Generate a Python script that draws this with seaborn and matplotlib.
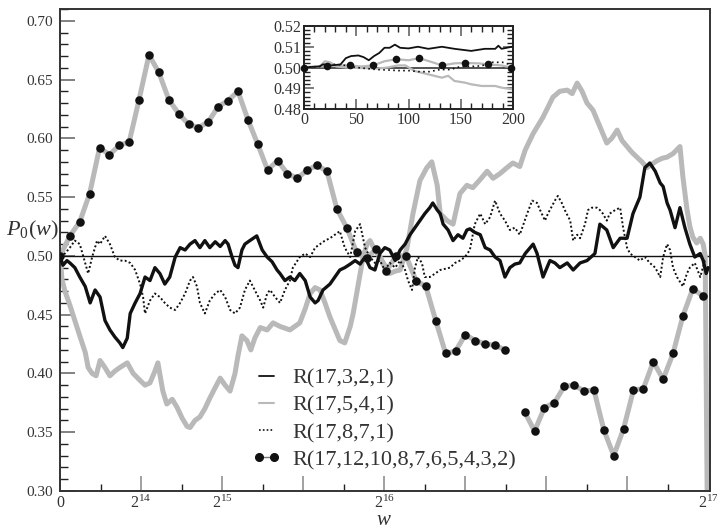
import numpy as np
import pandas as pd
import seaborn as sns
import matplotlib
matplotlib.use("Agg")
import matplotlib.pyplot as plt
from matplotlib.lines import Line2D
from matplotlib.ticker import MultipleLocator, FuncFormatter

# ---------------- data (w in thousands) ----------------
s1_w = [0.0, 0.6, 1.4, 2.0, 3.0, 4.0, 5.1, 6.1, 7.1, 8.1, 9.1, 10.1, 11.1, 12.1, 12.7, 13.6, 14.2, 15.2, 16.2,
        17.2, 18.2, 19.2, 20.2, 21.2, 22.2, 23.3, 24.3, 25.3, 26.3, 27.3, 28.3, 29.3, 30.3, 31.4, 32.4, 33.4,
        34.0, 34.8, 35.4, 36.0, 36.8, 37.4, 38.4, 39.8, 40.9, 41.9, 42.9, 43.9, 44.5, 45.5, 46.5, 47.5, 48.5,
        49.6, 50.6, 51.6, 52.2, 53.2, 54.6, 55.6, 56.6, 57.6, 58.7, 59.7, 60.7, 61.7, 62.7, 63.7, 64.7, 65.7,
        66.7, 67.8, 68.8, 69.8, 70.8, 71.8, 72.8, 73.8, 74.8, 75.4, 76.3, 76.9, 77.5, 78.5, 79.5, 80.5, 81.5,
        82.3, 82.9, 83.9, 85.0, 86.0, 87.0, 88.0, 89.0, 90.0, 91.0, 92.0, 93.0, 94.1, 95.1, 95.7, 96.5, 97.1,
        97.7, 99.1, 100.1, 101.1, 102.6, 103.8, 105.2, 106.6, 108.2, 109.2, 110.6, 111.9, 113.3, 114.7, 115.9,
        117.3, 118.3, 119.3, 120.4, 121.4, 122.0, 122.8, 123.4, 124.4, 125.4, 126.4, 127.4, 128.4, 129.5,
        130.1, 130.7, 131.1]
s1_v = [0.500, 0.492, 0.496, 0.494, 0.490, 0.482, 0.474, 0.460, 0.471, 0.465, 0.445, 0.437, 0.431, 0.426, 0.422,
        0.430, 0.451, 0.460, 0.468, 0.482, 0.479, 0.490, 0.485, 0.476, 0.482, 0.499, 0.507, 0.505, 0.510, 0.513,
        0.507, 0.513, 0.507, 0.512, 0.508, 0.513, 0.510, 0.499, 0.492, 0.490, 0.505, 0.510, 0.513, 0.517, 0.505,
        0.499, 0.495, 0.488, 0.485, 0.479, 0.482, 0.479, 0.485, 0.479, 0.465, 0.460, 0.462, 0.471, 0.476, 0.482,
        0.488, 0.490, 0.493, 0.496, 0.493, 0.499, 0.490, 0.488, 0.502, 0.507, 0.505, 0.496, 0.505, 0.510, 0.518,
        0.524, 0.530, 0.536, 0.541, 0.545, 0.539, 0.536, 0.527, 0.522, 0.513, 0.518, 0.515, 0.522, 0.523, 0.520,
        0.518, 0.507, 0.505, 0.499, 0.496, 0.482, 0.490, 0.493, 0.494, 0.502, 0.507, 0.510, 0.502, 0.492, 0.482,
        0.496, 0.494, 0.490, 0.494, 0.488, 0.494, 0.496, 0.502, 0.527, 0.522, 0.507, 0.515, 0.515, 0.536, 0.550,
        0.575, 0.579, 0.572, 0.562, 0.559, 0.545, 0.539, 0.524, 0.541, 0.524, 0.510, 0.499, 0.502, 0.496, 0.485,
        0.490]

s2_w = [0.0, 0.4, 1.0, 2.0, 3.0, 4.0, 5.1, 5.7, 6.5, 7.3, 8.1, 9.1, 10.1, 11.1, 12.1, 13.6, 14.8, 16.2, 17.2,
        18.2, 19.2, 19.8, 20.8, 21.6, 22.7, 23.7, 24.7, 25.7, 26.3, 27.3, 28.3, 29.3, 30.3, 31.4, 32.4, 33.4,
        34.4, 35.4, 36.0, 36.8, 37.8, 38.6, 39.4, 40.5, 41.9, 43.1, 44.5, 46.5, 48.5, 49.6, 50.6, 51.6, 52.6,
        53.6, 54.6, 55.6, 56.6, 57.6, 58.7, 59.3, 60.3, 61.3, 62.1, 62.7, 63.7, 64.7, 65.7, 66.7, 67.8, 68.8,
        70.2, 71.4, 72.8, 74.2, 75.2, 76.3, 76.9, 78.3, 79.5, 80.9, 82.3, 83.5, 85.0, 86.4, 87.6, 89.0, 90.4,
        91.6, 93.0, 94.1, 95.7, 97.7, 99.7, 101.1, 102.6, 103.6, 104.6, 105.6, 106.6, 107.8, 109.2, 110.6,
        111.6, 112.7, 113.7, 114.7, 115.7, 116.7, 117.7, 118.7, 119.7, 120.8, 121.8, 122.8, 124.0, 125.4,
        126.0, 126.8, 127.4, 128.0, 128.8, 129.5, 130.1, 130.5, 130.9]
s2_v = [0.500, 0.480, 0.470, 0.458, 0.445, 0.432, 0.418, 0.405, 0.400, 0.398, 0.411, 0.405, 0.398, 0.402, 0.405,
        0.409, 0.400, 0.394, 0.390, 0.392, 0.402, 0.409, 0.385, 0.374, 0.378, 0.371, 0.362, 0.355, 0.354, 0.360,
        0.363, 0.370, 0.379, 0.388, 0.396, 0.390, 0.385, 0.400, 0.415, 0.432, 0.428, 0.420, 0.430, 0.439, 0.437,
        0.443, 0.440, 0.437, 0.443, 0.455, 0.468, 0.473, 0.471, 0.460, 0.448, 0.438, 0.428, 0.426, 0.440, 0.451,
        0.475, 0.499, 0.510, 0.513, 0.505, 0.499, 0.492, 0.485, 0.487, 0.488, 0.507, 0.536, 0.564, 0.575, 0.580,
        0.560, 0.536, 0.530, 0.527, 0.553, 0.560, 0.558, 0.565, 0.572, 0.566, 0.570, 0.575, 0.579, 0.576, 0.590,
        0.604, 0.618, 0.635, 0.640, 0.641, 0.638, 0.647, 0.640, 0.630, 0.624, 0.610, 0.596, 0.600, 0.607, 0.598,
        0.593, 0.588, 0.584, 0.580, 0.575, 0.578, 0.581, 0.583, 0.584, 0.587, 0.593, 0.567, 0.540, 0.525, 0.516,
        0.511, 0.515, 0.510, 0.500, 0.300]

s3_w = [0.0, 1.0, 2.0, 3.0, 4.0, 5.1, 5.7, 6.5, 7.5, 8.1, 9.1, 10.1, 11.1, 12.1, 13.1, 14.2, 15.2, 16.2, 16.8,
        17.2, 18.2, 19.2, 20.2, 21.2, 22.2, 23.3, 24.3, 25.3, 26.3, 26.9, 27.7, 28.3, 29.3, 30.3, 31.4, 32.4,
        33.4, 34.4, 35.4, 36.4, 37.4, 38.4, 39.4, 40.5, 41.1, 41.9, 42.5, 43.5, 44.5, 45.5, 46.5, 47.1, 48.5,
        49.6, 50.6, 51.6, 52.6, 53.6, 54.6, 55.6, 56.6, 57.6, 58.7, 59.7, 60.7, 61.7, 62.7, 63.7, 64.7, 65.7,
        66.7, 67.8, 68.8, 69.8, 70.4, 71.2, 71.8, 72.4, 73.2, 73.8, 74.8, 75.9, 76.9, 77.9, 78.9, 79.9, 80.9,
        81.9, 82.9, 83.9, 85.0, 86.0, 87.0, 88.0, 89.0, 90.0, 91.0, 92.0, 93.0, 94.5, 95.5, 96.5, 97.1, 98.1,
        98.7, 100.1, 100.7, 101.5, 102.1, 103.2, 103.8, 104.6, 105.2, 106.2, 106.8, 107.6, 108.6, 109.2, 109.8,
        110.6, 111.2, 112.3, 113.3, 113.9, 114.7, 115.3, 116.3, 117.3, 118.3, 119.3, 120.4, 121.4, 122.0,
        122.8, 123.4, 124.0, 124.8, 126.0, 126.8, 127.4, 128.4, 129.5, 130.5]
s3_v = [0.500, 0.502, 0.507, 0.513, 0.510, 0.494, 0.485, 0.499, 0.513, 0.510, 0.517, 0.510, 0.499, 0.496, 0.496,
        0.494, 0.488, 0.476, 0.465, 0.451, 0.462, 0.468, 0.465, 0.460, 0.456, 0.454, 0.460, 0.468, 0.479, 0.482,
        0.474, 0.460, 0.451, 0.462, 0.468, 0.471, 0.465, 0.454, 0.451, 0.456, 0.471, 0.479, 0.471, 0.462, 0.456,
        0.468, 0.471, 0.465, 0.460, 0.471, 0.479, 0.490, 0.499, 0.502, 0.499, 0.507, 0.510, 0.513, 0.515, 0.518,
        0.521, 0.507, 0.499, 0.521, 0.527, 0.507, 0.499, 0.494, 0.496, 0.488, 0.494, 0.490, 0.496, 0.488, 0.479,
        0.471, 0.490, 0.499, 0.494, 0.482, 0.482, 0.485, 0.488, 0.489, 0.490, 0.494, 0.496, 0.499, 0.505, 0.527,
        0.536, 0.527, 0.533, 0.547, 0.536, 0.530, 0.522, 0.524, 0.518, 0.536, 0.547, 0.545, 0.539, 0.530, 0.536,
        0.547, 0.551, 0.545, 0.539, 0.530, 0.513, 0.518, 0.515, 0.527, 0.539, 0.541, 0.541, 0.539, 0.536, 0.530,
        0.536, 0.539, 0.541, 0.524, 0.507, 0.502, 0.499, 0.496, 0.499, 0.494, 0.490, 0.482, 0.499, 0.510, 0.505,
        0.490, 0.482, 0.474, 0.485, 0.490, 0.494, 0.482, 0.497]

# R(17,12,10,8,7,6,5,4,3,2): one value every 2000 steps (marker points), NaN = gap
s4_w = [2.0 * k for k in range(66)]
s4_v = [0.500, 0.517, 0.529, 0.553, 0.592, 0.586, 0.594, 0.597, 0.633, 0.671, 0.656, 0.633, 0.621, 0.612,
        0.609, 0.614, 0.627, 0.632, 0.640, 0.616, 0.595, 0.573, 0.581, 0.570, 0.566, 0.573, 0.577, 0.572,
        0.540, 0.524, 0.503, 0.498, 0.506, 0.487, 0.500, 0.500, 0.479, 0.474, 0.445, 0.417, 0.419, 0.433,
        0.428, 0.425, 0.424, 0.420, np.nan, 0.367, 0.351, 0.371, 0.375, 0.389, 0.390, 0.385, 0.386, 0.352,
        0.330, 0.353, 0.386, 0.387, 0.410, 0.395, 0.417, 0.449, 0.472, 0.466]

# inset (w = 0..200)
i1_w = [0, 15, 18, 25, 30, 35, 40, 45, 52, 57, 62, 67, 72, 77, 82, 87, 92, 100, 109, 119, 132, 144, 160, 173,
        183, 186, 189, 199]
i1_v = [0.500, 0.5005, 0.5015, 0.501, 0.5012, 0.5015, 0.5045, 0.5055, 0.5058, 0.505, 0.5035, 0.5055, 0.507,
        0.5095, 0.5095, 0.511, 0.5095, 0.5092, 0.510, 0.509, 0.510, 0.509, 0.508, 0.509, 0.509, 0.5105, 0.509,
        0.510]
i2_w = [0, 15, 20, 25, 31, 40, 50, 60, 70, 80, 90, 97, 106, 119, 132, 138, 144, 154, 160, 170, 183, 189, 199]
i2_v = [0.500, 0.5005, 0.503, 0.5025, 0.5005, 0.500, 0.4998, 0.4997, 0.4995, 0.500, 0.501, 0.501, 0.4983,
        0.4967, 0.4951, 0.496, 0.4935, 0.4927, 0.4919, 0.4911, 0.4911, 0.4903, 0.4895]
i3_w = [0, 15, 20, 30, 40, 50, 60, 70, 80, 90, 100, 110, 120, 130, 140, 150, 160, 170, 180, 190, 200]
i3_v = [0.500, 0.5005, 0.5015, 0.5015, 0.501, 0.500, 0.4995, 0.499, 0.4988, 0.4985, 0.4985, 0.498, 0.498,
        0.499, 0.499, 0.5005, 0.5005, 0.5008, 0.5025, 0.5025, 0.501]
i4_w = [0, 10, 22, 30, 44, 55, 66, 77, 88, 100, 110, 120, 132, 144, 154, 167, 176, 189, 198]
i4_v = [0.500, 0.5005, 0.5005, 0.501, 0.501, 0.5005, 0.501, 0.503, 0.504, 0.5035, 0.5045, 0.503, 0.501, 0.502,
        0.5022, 0.502, 0.5015, 0.501, 0.500]
i4_mark = [0, 22, 44, 66, 88, 110, 132, 154, 176, 198]

labels = ["R(17,3,2,1)", "R(17,5,4,1)", "R(17,8,7,1)", "R(17,12,10,8,7,6,5,4,3,2)"]
xtick_names = {0: "0", 14: "$2^{14}$", 15: "$2^{15}$", 16: "$2^{16}$", 17: "$2^{17}$"}

# ---------------- style ----------------
sns.set_theme(style="white")
plt.rcParams["font.family"] = ["Liberation Serif", "DejaVu Serif"]
plt.rcParams["mathtext.fontset"] = "custom"
plt.rcParams["mathtext.rm"] = "Liberation Serif"
plt.rcParams["mathtext.it"] = "Liberation Serif:italic"

GRAY = "#b9b9b9"
BLACK = "#111111"
TXT = "#333333"

fig = plt.figure(figsize=(7.17, 5.31), dpi=100)
ax = fig.add_axes([60 / 717, 40 / 531, 650 / 717, 482 / 531])

K = 1000.0
d1 = pd.DataFrame({"w": np.array(s1_w) * K, "p": s1_v})
d2 = pd.DataFrame({"w": np.array(s2_w) * K, "p": s2_v})
d3 = pd.DataFrame({"w": np.array(s3_w) * K, "p": s3_v})
d4 = pd.DataFrame({"w": np.array(s4_w) * K, "p": s4_v})
d4["seg"] = np.cumsum(d4["p"].isna())
d4l = d4.dropna()

sns.lineplot(data=d2, x="w", y="p", ax=ax, color=GRAY, lw=3.6, estimator=None, sort=False, zorder=2)
sns.lineplot(data=d4l, x="w", y="p", units="seg", ax=ax, color=GRAY, lw=3.6, estimator=None,
             sort=False, zorder=2)
sns.lineplot(data=d3, x="w", y="p", ax=ax, color=BLACK, lw=1.4, ls=(0, (1, 1.2)), estimator=None,
             sort=False, zorder=3)
sns.lineplot(data=d1, x="w", y="p", ax=ax, color=BLACK, lw=2.4, estimator=None, sort=False, zorder=4)
sns.scatterplot(data=d4l, x="w", y="p", ax=ax, color=BLACK, s=38, edgecolor=BLACK, linewidth=0, zorder=5)
ax.axhline(0.5, color=BLACK, lw=1.0, zorder=1)

ax.set_xlim(0, 131072 * 650 / 648)
ax.set_ylim(0.30, 0.71)
ax.xaxis.set_major_locator(MultipleLocator(16384))
ax.xaxis.set_minor_locator(MultipleLocator(8192))


def xfmt(v, pos):
    if v == 0:
        return xtick_names[0]
    e = np.log2(v) if v > 0 else -1
    if abs(e - round(e)) < 1e-9 and int(round(e)) in xtick_names:
        return xtick_names[int(round(e))]
    return ""


ax.xaxis.set_major_formatter(FuncFormatter(xfmt))
ax.yaxis.set_major_locator(MultipleLocator(0.05))
ax.yaxis.set_minor_locator(MultipleLocator(0.01))
ax.yaxis.set_major_formatter(FuncFormatter(lambda v, p: f"{v:.2f}"))
ax.tick_params(axis="both", which="both", direction="in", top=False, right=False, left=True, bottom=True)
ax.tick_params(axis="x", which="major", length=11, width=1.3, color="#999999", labelsize=11.5,
               labelcolor=TXT, pad=3)
ax.tick_params(axis="x", which="minor", length=5, width=1.0, color="#222222")
ax.tick_params(axis="y", which="major", length=11, width=1.3, color="#777777", labelsize=11,
               labelcolor=TXT, pad=5)
ax.tick_params(axis="y", which="minor", length=6, width=1.0, color="#222222")
for s in ax.spines.values():
    s.set_color("#333333")
    s.set_linewidth(1.4)
ax.set_xlabel("")
ax.set_ylabel("")

fig.text(32 / 717, 1 - 230 / 531, r"$P_0(w)$", fontsize=16, color=TXT, ha="center", va="center")
fig.text(384 / 717, 1 / 531, r"$w$", fontsize=15, color=TXT, ha="center", va="bottom")

handles = [
    Line2D([], [], color=BLACK, lw=1.3),
    Line2D([], [], color=GRAY, lw=1.5),
    Line2D([], [], color=BLACK, lw=1.2, ls=(0, (1, 1.3))),
    Line2D([], [], color="#777777", lw=1.0, marker="o", ms=5.5, mfc=BLACK, mec=BLACK),
]
ax.legend(handles, labels, loc="upper left", bbox_to_anchor=((252 - 60) / 650, (491 - 368) / 482),
          frameon=False, fontsize=16, handlelength=1.3, handletextpad=0.5, labelspacing=0.3,
          borderpad=0, borderaxespad=0, numpoints=2, labelcolor=TXT)

# ---------------- inset ----------------
ins = fig.add_axes([304 / 717, (531 - 109) / 531, 209 / 717, 83 / 531])
ins.set_facecolor("white")
e1 = pd.DataFrame({"w": i1_w, "p": i1_v})
e2 = pd.DataFrame({"w": i2_w, "p": i2_v})
e3 = pd.DataFrame({"w": i3_w, "p": i3_v})
e4 = pd.DataFrame({"w": i4_w, "p": i4_v})
e4m = e4[e4["w"].isin(i4_mark)]
ins.axhline(0.5, color="#444444", lw=1.3, zorder=1)
sns.lineplot(data=e2, x="w", y="p", ax=ins, color=GRAY, lw=1.6, estimator=None, sort=False, zorder=2)
sns.lineplot(data=e4, x="w", y="p", ax=ins, color=GRAY, lw=1.6, estimator=None, sort=False, zorder=2)
sns.lineplot(data=e3, x="w", y="p", ax=ins, color=BLACK, lw=1.2, ls=(0, (1, 2)), estimator=None,
             sort=False, zorder=3)
sns.lineplot(data=e1, x="w", y="p", ax=ins, color=BLACK, lw=1.3, estimator=None, sort=False, zorder=4)
sns.scatterplot(data=e4m, x="w", y="p", ax=ins, color=BLACK, s=30, linewidth=0, zorder=5, clip_on=False)
ins.set_xlim(0, 200)
ins.set_ylim(0.48, 0.52)
ins.xaxis.set_major_locator(MultipleLocator(50))
ins.xaxis.set_minor_locator(MultipleLocator(10))
ins.yaxis.set_major_locator(MultipleLocator(0.01))
ins.yaxis.set_minor_locator(MultipleLocator(0.002))
ins.yaxis.set_major_formatter(FuncFormatter(lambda v, p: f"{v:.2f}"))
ins.tick_params(axis="both", which="both", direction="in", top=True, right=True, left=True, bottom=True)
ins.tick_params(axis="both", which="major", length=7, width=1.2, color="#666666", labelsize=11.5,
                labelcolor=TXT, pad=2)
ins.tick_params(axis="both", which="minor", length=4, width=1.0, color="#222222")
for s in ins.spines.values():
    s.set_color("#222222")
    s.set_linewidth(1.4)
ins.set_xlabel("")
ins.set_ylabel("")

fig.savefig("out.png", dpi=100)
